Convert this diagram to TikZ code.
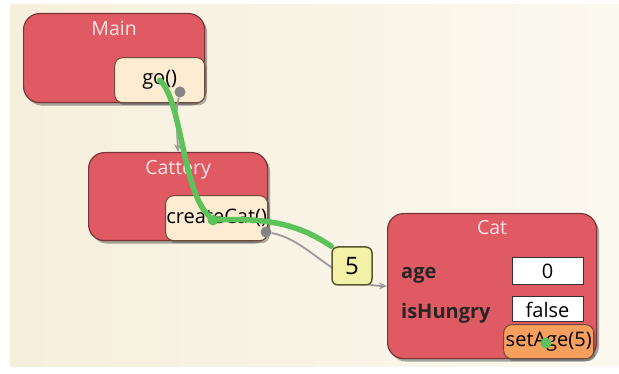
\documentclass[tikz,border=0pt]{standalone}
\usepackage{fontspec}
\setmainfont{Open Sans}
\usetikzlibrary{positioning,shadows,arrows.meta}

\definecolor{objred}{HTML}{E05A64}
\definecolor{objedge}{HTML}{7A3438}
\definecolor{methfill}{HTML}{FDEBD2}
\definecolor{methedge}{HTML}{6E4A3A}
\definecolor{argfill}{HTML}{F3F0A8}
\definecolor{argedge}{HTML}{5C5730}
\definecolor{callgreen}{HTML}{5CC35A}
\definecolor{bgcream}{HTML}{F6EFDC}
\definecolor{bglight}{HTML}{FBF8EF}
\definecolor{activeorange}{HTML}{F7A05E}
\definecolor{linkgray}{HTML}{9C9C9C}
\definecolor{titlepink}{HTML}{FBE4E4}

\pgfdeclarelayer{front}
\pgfsetlayers{main,front}

\tikzset{
  objbox/.style={draw=objedge, line width=1.2pt, fill=objred, rounded corners=16pt,
    inner sep=0pt, drop shadow={shadow xshift=2.5pt, shadow yshift=-3pt, opacity=.45, fill=black!75}},
  objtitle/.style={text=titlepink, inner sep=0pt, text height=14pt, text depth=4pt,
    font=\fontsize{19.5}{22}\selectfont},
  methbox/.style={draw=methedge, line width=1pt, fill=methfill, rounded corners=8pt,
    inner sep=0pt, font=\fontsize{20}{22}\selectfont,
    drop shadow={shadow xshift=2pt, shadow yshift=-2.5pt, opacity=.4, fill=black!75}},
  valbox/.style={draw=black!80, line width=1pt, fill=white, inner sep=0pt,
    minimum width=71pt, font=\fontsize{20}{22}\selectfont},
  fieldlabel/.style={inner sep=0pt, font=\fontsize{20}{22}\selectfont\bfseries, text=black!85},
  argbox/.style={draw=argedge, line width=1.5pt, fill=argfill, rounded corners=6pt,
    inner sep=0pt, minimum width=40pt, minimum height=38pt, font=\fontsize{24}{26}\selectfont},
  greendot/.style={circle, fill=callgreen, inner sep=0pt, minimum size=11pt},
  graydot/.style={circle, fill=linkgray!85!black, inner sep=0pt, minimum size=11pt},
  link/.style={draw=linkgray, line width=1.8pt, -{Stealth[length=8pt,width=7pt]}},
  callpath/.style={draw=callgreen, line width=5.5pt, line cap=round}
}

\begin{document}
\begin{tikzpicture}[x=1pt,y=-1pt]
\useasboundingbox (0,0) rectangle (619,374);
\fill[left color=bgcream, right color=bglight] (10,5) rectangle (619,366);

% objects
\node[objbox, anchor=north west, minimum width=181pt, minimum height=89pt] (main) at (23,13) {};
\node[objtitle, below=8pt of main.north] (maintitle) {Main};
\node[methbox, anchor=south east, minimum width=90pt, minimum height=45pt] (go) at (main.south east) {go()};

\node[objbox, anchor=north west, minimum width=179pt, minimum height=88pt] (cattery) at (88,152) {};
\node[objtitle, below=8pt of cattery.north] (catterytitle) {Cattery};
\node[methbox, anchor=south east, minimum width=102pt, minimum height=45pt] (createcat) at (cattery.south east) {createCat()};

\node[objbox, anchor=north west, minimum width=209pt, minimum height=145pt] (cat) at (387,213) {};
\node[objtitle, below=7pt of cat.north] (cattitle) {Cat};
\node[fieldlabel, anchor=west] (agelabel) at (401,275) {age};
\node[fieldlabel, anchor=west] (hungrylabel) at (401,313) {isHungry};
\node[valbox, minimum height=27pt] (ageval) at (547.5,271.5) {0};
\node[valbox, minimum height=25pt] (hungryval) at (547.5,309.5) {false};
\node[methbox, fill=activeorange, anchor=south east, minimum width=90pt, minimum height=34pt] (setage) at ([xshift=-3pt]cat.south east) {setAge(5)};

% links
\node[graydot] (godot) at (180,92) {};
\node[graydot] (ccdot) at (266,232) {};
\draw[link] (godot) .. controls (176,110) .. (cattery.north);
\draw[link] (ccdot) .. controls (310,240) and (335,285) .. (cat.west);

% call
\begin{pgfonlayer}{front}
\node[argbox] (five) at (352,266) {5};
\node[greendot] (ccgreen) at (213,220) {};
\node[greendot] (setagegreen) at (546,343) {};
\end{pgfonlayer}
\draw[callpath] (go.center) .. controls (182,100) and (182,190) .. (ccgreen)
  .. controls (270,218) and (300,225) .. (five.north west);
\end{tikzpicture}
\end{document}
